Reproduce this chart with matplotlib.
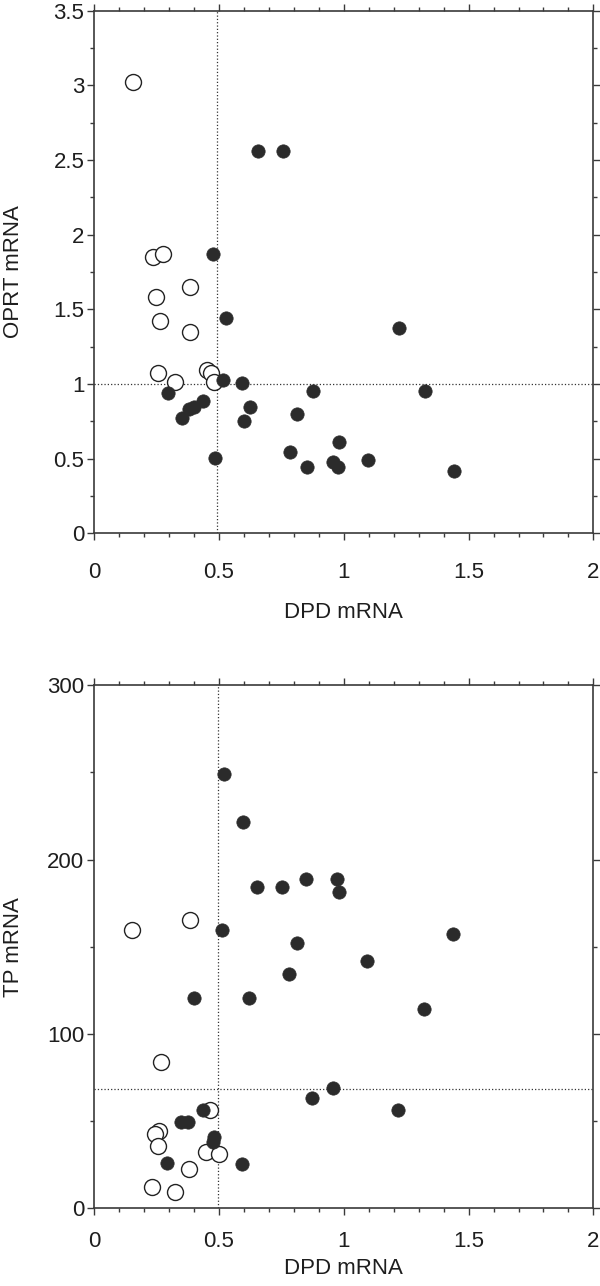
import matplotlib.pyplot as plt
from matplotlib.ticker import MultipleLocator

# DPD vs OPRT (top) and DPD vs TP (bottom); open = one group, filled = other
oprt_open_x = [0.157, 0.235, 0.275, 0.384, 0.247, 0.263, 0.385, 0.257, 0.451, 0.467, 0.480, 0.324]
oprt_open_y = [3.025, 1.853, 1.871, 1.648, 1.581, 1.420, 1.346, 1.072, 1.094, 1.072, 1.015, 1.015]

oprt_fill_x = [0.657, 0.757, 0.476, 0.527, 0.515, 0.594, 0.296, 0.437, 0.401, 0.381, 0.352, 0.623, 0.599,
               0.876, 0.813, 0.482, 0.785, 0.853, 0.958, 0.978, 0.982, 1.223, 1.326, 1.095, 1.442]
oprt_fill_y = [2.563, 2.563, 1.871, 1.440, 1.027, 1.005, 0.938, 0.886, 0.848, 0.831, 0.774, 0.848, 0.754,
               0.953, 0.799, 0.506, 0.547, 0.442, 0.476, 0.446, 0.614, 1.373, 0.951, 0.491, 0.417]

tp_open_x = [0.153, 0.383, 0.269, 0.464, 0.260, 0.244, 0.255, 0.448, 0.502, 0.381, 0.231, 0.323]
tp_open_y = [159.4, 165.1, 83.8, 56.3, 44.4, 42.4, 35.7, 32.4, 30.9, 22.3, 12.4, 9.2]

tp_fill_x = [0.522, 0.595, 0.653, 0.753, 0.849, 0.974, 0.980, 0.512, 0.812, 0.781, 0.401, 0.619, 1.439,
             1.092, 1.322, 0.956, 0.872, 1.219, 0.435, 0.347, 0.377, 0.478, 0.474, 0.293, 0.591]
tp_fill_y = [249.1, 221.8, 184.2, 184.2, 189.0, 189.0, 181.7, 159.4, 152.1, 134.4, 120.6, 120.6, 157.5,
             141.6, 114.1, 69.3, 63.0, 56.5, 56.3, 49.3, 49.3, 41.0, 37.8, 25.8, 25.2]

# cut-off lines
oprt_cut_x, oprt_cut_y = 0.49, 1.0
tp_cut_x, tp_cut_y = 0.495, 68.2

plt.rcParams['font.family'] = ['Liberation Sans', 'DejaVu Sans']
axcol = '#3a3a3a'
dotcol = '#2b2b2b'
txtcol = '#1e1e1e'

fig = plt.figure(figsize=(6, 12.86), dpi=100)
ax1 = fig.add_axes([0.157, 0.5853, 0.832, 0.4064])
ax2 = fig.add_axes([0.157, 0.0604, 0.832, 0.4067])


def style(ax, ylim, ymajor, yminor, ylabel, xpad, xlabpad):
    ax.set_xlim(0, 2)
    ax.set_ylim(*ylim)
    ax.xaxis.set_major_locator(MultipleLocator(0.5))
    ax.xaxis.set_minor_locator(MultipleLocator(0.1))
    ax.yaxis.set_major_locator(MultipleLocator(ymajor))
    ax.yaxis.set_minor_locator(MultipleLocator(yminor))
    ax.xaxis.set_major_formatter(plt.FuncFormatter(lambda v, p: f'{v:g}'))
    ax.yaxis.set_major_formatter(plt.FuncFormatter(lambda v, p: f'{v:g}'))
    for s in ax.spines.values():
        s.set_color(axcol)
        s.set_linewidth(1.2)
    ax.tick_params(which='both', direction='out', top=True, right=True, color=axcol, width=1.0)
    ax.tick_params(which='major', length=5, labelsize=16, labelcolor=txtcol)
    ax.tick_params(which='minor', length=3)
    ax.tick_params(axis='x', which='major', pad=xpad)
    ax.tick_params(axis='y', which='major', pad=2)
    ax.set_xlabel('DPD mRNA', fontsize=16, color=txtcol, labelpad=xlabpad)
    ax.set_ylabel(ylabel, fontsize=16, color=txtcol)
    ax.yaxis.set_label_coords(-0.140, 0.5)


style(ax1, (0, 3.5), 0.5, 0.25, 'OPRT mRNA', 16, 13)
style(ax2, (0, 300), 100, 50, 'TP mRNA', 11, 5)

ax1.axvline(oprt_cut_x, color='#333333', ls=':', lw=0.9, zorder=1)
ax1.axhline(oprt_cut_y, color='#333333', ls=':', lw=0.9, zorder=1)
ax2.axvline(tp_cut_x, color='#333333', ls=':', lw=0.9, zorder=1)
ax2.axhline(tp_cut_y, color='#333333', ls=':', lw=0.9, zorder=1)

for ax, ox, oy, fx, fy in [(ax1, oprt_open_x, oprt_open_y, oprt_fill_x, oprt_fill_y),
                           (ax2, tp_open_x, tp_open_y, tp_fill_x, tp_fill_y)]:
    ax.plot(ox, oy, 'o', ms=11.5, mfc='white', mec='#222222', mew=1.0, ls='none', zorder=3)
    ax.plot(fx, fy, 'o', ms=9.6, mfc=dotcol, mec=dotcol, mew=0.5, ls='none', zorder=4)

fig.savefig('out.png', dpi=100)
